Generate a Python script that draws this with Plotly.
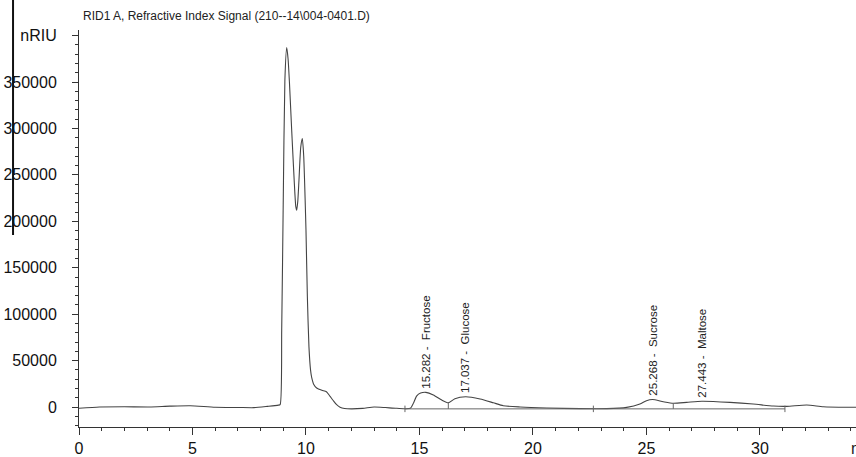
import numpy as np
import plotly.graph_objects as go

# Refractive index detector trace (retention time in min, signal in nRIU)
time_min = [
    0.0, 0.9, 2.0, 3.1, 4.0, 4.9, 6.0, 7.0, 7.7, 8.3, 8.78, 8.86,
    8.93, 9.00, 9.07, 9.15, 9.21, 9.27, 9.37, 9.48, 9.55, 9.59, 9.64, 9.69,
    9.77, 9.84, 9.90, 9.96, 10.0, 10.06, 10.13, 10.20, 10.25, 10.35, 10.47,
    10.7, 10.9, 11.06, 11.2, 11.35, 11.5, 11.7, 12.0, 12.5, 13.0, 13.5, 14.0,
    14.6, 14.73, 14.88, 15.05, 15.282, 15.61, 15.98, 16.27, 16.56, 17.037,
    17.67, 18.25, 18.69, 19.43, 20.6, 22.07, 23.25, 24.13, 24.71, 25.0,
    25.268, 25.74, 26.18, 26.77, 27.443, 28.68, 29.7, 30.59, 31.18, 32.06,
    32.79, 33.82, 34.23,
]
signal_nriu = [
    -1400, 0, 200, 0, 900, 1400, -300, -500, -700, 700, 2000, 2500,
    83000, 226000, 352000, 387000, 375000, 350000, 298000, 244000, 216000,
    212000, 222000, 244000, 280000, 289000, 270000, 225000, 190000, 119000,
    65000, 40000, 32000, 24000, 20500, 18000, 16500, 11500, 7000, 2500, -200,
    -1600, -2000, -1500, 0, -600, -1400, -1400, 4000, 12000, 15000, 15800,
    13000, 7500, 4500, 9000, 11000, 8600, 4600, 1400, 0, -1100, -1800, -1800,
    -400, 3200, 6800, 8000, 5700, 4000, 5000, 6200, 5000, 3200, 1000, 700,
    2100, 300, -300, -300,
]

# Identified peaks
peak_rt = [15.282, 17.037, 25.268, 27.443]
peak_names = ["Fructose", "Glucose", "Sucrose", "Maltose"]

# Integration events
baseline_start = [14.36, 22.66]
baseline_end = [22.66, 31.10]
baseline_level = -2000
drop_times = [16.27, 26.18]
event_ticks = [14.36, 22.66, 31.10]

# Axis ticks
x_ticks = [0, 5, 10, 15, 20, 25, 30]
y_ticks = [0, 50000, 100000, 150000, 200000, 250000, 300000, 350000, 400000]
y_tick_text = ["0", "50000", "100000", "150000", "200000", "250000",
               "300000", "350000", "nRIU"]

FONT = "Liberation Sans, Arial, sans-serif"
TRACE = "#444444"

fig = go.Figure()

fig.add_trace(go.Scatter(
    x=time_min, y=signal_nriu, mode="lines",
    line=dict(color=TRACE, width=1.1, shape="spline", smoothing=0.6),
    hoverinfo="skip", showlegend=False,
))

# Integration baselines
for x0, x1 in zip(baseline_start, baseline_end):
    fig.add_trace(go.Scatter(
        x=[x0, x1], y=[baseline_level, baseline_level], mode="lines",
        line=dict(color="#666666", width=1), hoverinfo="skip", showlegend=False,
    ))

# Drop lines from the trace to the baseline at peak splits
for t in drop_times:
    top = float(np.interp(t, time_min, signal_nriu))
    fig.add_trace(go.Scatter(
        x=[t, t], y=[baseline_level, top], mode="lines",
        line=dict(color="#666666", width=1), hoverinfo="skip", showlegend=False,
    ))

# Start / end event ticks
for t in event_ticks:
    fig.add_trace(go.Scatter(
        x=[t, t], y=[baseline_level - 3500, baseline_level + 3500], mode="lines",
        line=dict(color="#666666", width=1), hoverinfo="skip", showlegend=False,
    ))

# Peak labels
for rt, name in zip(peak_rt, peak_names):
    h = float(np.interp(rt, time_min, signal_nriu))
    fig.add_annotation(
        x=rt, y=h, text=f"{rt:.3f} -  {name}", textangle=-90,
        showarrow=False, xanchor="center", yanchor="bottom", yshift=2,
        font=dict(family=FONT, size=11.5, color="#222222"),
    )

# Signal title
fig.add_annotation(
    xref="paper", yref="paper", x=0, y=1.035, xshift=2,
    text="RID1 A, Refractive Index Signal (210--14\\004-0401.D)",
    showarrow=False, xanchor="left", yanchor="middle",
    font=dict(family=FONT, size=12, color="#222222"),
)

# Time unit at the end of the axis
fig.add_annotation(
    xref="paper", yref="paper", x=0.991, y=-0.053,
    text="min", showarrow=False, xanchor="left", yanchor="middle",
    font=dict(family=FONT, size=16, color="#222222"),
)

# Left edge bar
fig.add_shape(
    type="line", xref="paper", yref="paper",
    x0=-0.0849, x1=-0.0849, y0=1.08, y1=0.4836,
    line=dict(color="#111111", width=2),
)

fig.update_xaxes(
    range=[0, 34.23], tickmode="array", tickvals=x_ticks,
    ticks="outside", ticklen=7, tickwidth=1, tickcolor="#333333",
    showline=True, linecolor="#333333", linewidth=1,
    showgrid=False, zeroline=False,
    minor=dict(tickmode="linear", tick0=0, dtick=1, ticks="outside",
               ticklen=3, tickcolor="#333333"),
    tickfont=dict(family=FONT, size=16, color="#111111"),
)
fig.update_yaxes(
    range=[-21540, 406000], tickmode="array", tickvals=y_ticks,
    ticktext=y_tick_text,
    ticks="outside", ticklen=6, tickwidth=1, tickcolor="#333333",
    showline=True, linecolor="#333333", linewidth=1,
    showgrid=False, zeroline=False,
    minor=dict(tickmode="linear", tick0=0, dtick=10000, ticks="outside",
               ticklen=3, tickcolor="#333333"),
    tickfont=dict(family=FONT, size=16, color="#111111"),
    ticklabelstandoff=12,
)

fig.update_layout(
    width=856, height=457, autosize=False,
    margin=dict(l=79, r=0, t=30, b=30),
    paper_bgcolor="white", plot_bgcolor="white",
)

fig.write_html("out.html")
